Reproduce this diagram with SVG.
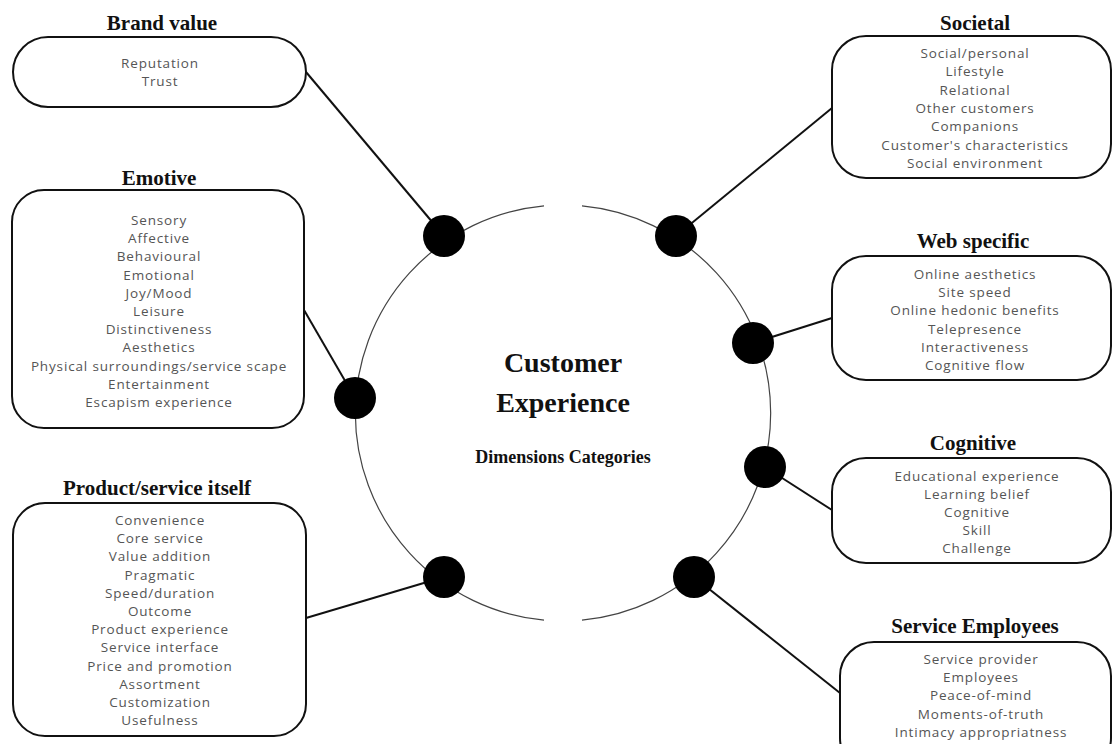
<svg xmlns="http://www.w3.org/2000/svg" width="1113" height="744" viewBox="0 0 1113 744">
  <style>
    .box { fill: #ffffff; stroke: #111111; stroke-width: 2; }
    .title { font-family: "Liberation Serif", "Times New Roman", serif; font-weight: bold; font-size: 21px; fill: #111111; text-anchor: middle; }
    .item { font-family: "Open Sans", "Liberation Sans", sans-serif; font-size: 13.5px; letter-spacing: 0.85px; fill: #555555; text-anchor: middle; }
    .link { stroke: #111111; stroke-width: 2; fill: none; }
    .ring { stroke: #444444; stroke-width: 1.2; fill: none; }
    .dot { fill: #000000; }
    .center { font-family: "Liberation Serif", "Times New Roman", serif; font-weight: bold; fill: #111111; text-anchor: middle; }
  </style>

  <rect width="1113" height="744" fill="#ffffff"/>

  <!-- connectors: box edge to hub dot -->
  <g id="connectors">
    <line class="link" x1="306" y1="72" x2="444" y2="236"/>
    <line class="link" x1="304" y1="310" x2="355" y2="398"/>
    <line class="link" x1="306" y1="618" x2="444" y2="577"/>
    <line class="link" x1="832" y1="108" x2="676" y2="236"/>
    <line class="link" x1="832" y1="318" x2="753" y2="343"/>
    <line class="link" x1="832" y1="510" x2="765" y2="467"/>
    <line class="link" x1="840" y1="693" x2="694" y2="577"/>
  </g>

  <!-- central hub: ring with openings at top and bottom -->
  <g id="hub">
    <path class="ring" d="M544 205.9 A208 208 0 0 0 544 620.1"/>
    <path class="ring" d="M582 205.9 A208 208 0 0 1 582 620.1"/>
    <text class="center" x="563" y="372" font-size="28">Customer</text>
    <text class="center" x="563" y="412" font-size="28">Experience</text>
    <text class="center" x="563" y="463" font-size="18">Dimensions Categories</text>
    <circle class="dot" cx="444" cy="236" r="21"/>
    <circle class="dot" cx="676" cy="236" r="21"/>
    <circle class="dot" cx="355" cy="398" r="21"/>
    <circle class="dot" cx="444" cy="577" r="21"/>
    <circle class="dot" cx="694" cy="577" r="21"/>
    <circle class="dot" cx="753" cy="343" r="21"/>
    <circle class="dot" cx="765" cy="467" r="21"/>
  </g>

  <g id="brand-value">
    <text class="title" x="162" y="30">Brand value</text>
    <rect class="box" x="13" y="37" width="293" height="70" rx="35"/>
    <text class="item" x="160" y="68">Reputation</text>
    <text class="item" x="160" y="86">Trust</text>
  </g>

  <g id="emotive">
    <text class="title" x="159" y="185">Emotive</text>
    <rect class="box" x="12" y="190" width="292" height="238" rx="32"/>
    <text class="item" x="159" y="225">Sensory</text>
    <text class="item" x="159" y="243.2">Affective</text>
    <text class="item" x="159" y="261.4">Behavioural</text>
    <text class="item" x="159" y="279.6">Emotional</text>
    <text class="item" x="159" y="297.8">Joy/Mood</text>
    <text class="item" x="159" y="316">Leisure</text>
    <text class="item" x="159" y="334.2">Distinctiveness</text>
    <text class="item" x="159" y="352.4">Aesthetics</text>
    <text class="item" x="159" y="370.6">Physical surroundings/service scape</text>
    <text class="item" x="159" y="388.8">Entertainment</text>
    <text class="item" x="159" y="407">Escapism experience</text>
  </g>

  <g id="product-service">
    <text class="title" x="157" y="495" font-size="22">Product/service itself</text>
    <rect class="box" x="13" y="503" width="293" height="233" rx="32"/>
    <text class="item" x="160" y="525">Convenience</text>
    <text class="item" x="160" y="543.2">Core service</text>
    <text class="item" x="160" y="561.4">Value addition</text>
    <text class="item" x="160" y="579.6">Pragmatic</text>
    <text class="item" x="160" y="597.8">Speed/duration</text>
    <text class="item" x="160" y="616">Outcome</text>
    <text class="item" x="160" y="634.2">Product experience</text>
    <text class="item" x="160" y="652.4">Service interface</text>
    <text class="item" x="160" y="670.6">Price and promotion</text>
    <text class="item" x="160" y="688.8">Assortment</text>
    <text class="item" x="160" y="707">Customization</text>
    <text class="item" x="160" y="725.2">Usefulness</text>
  </g>

  <g id="societal">
    <text class="title" x="975" y="30">Societal</text>
    <rect class="box" x="832" y="36" width="279" height="142" rx="34"/>
    <text class="item" x="975" y="58">Social/personal</text>
    <text class="item" x="975" y="76.3">Lifestyle</text>
    <text class="item" x="975" y="94.6">Relational</text>
    <text class="item" x="975" y="112.9">Other customers</text>
    <text class="item" x="975" y="131.2">Companions</text>
    <text class="item" x="975" y="149.5">Customer's characteristics</text>
    <text class="item" x="975" y="167.8">Social environment</text>
  </g>

  <g id="web-specific">
    <text class="title" x="973" y="248">Web specific</text>
    <rect class="box" x="832" y="256" width="279" height="124" rx="34"/>
    <text class="item" x="975" y="279">Online aesthetics</text>
    <text class="item" x="975" y="297.2">Site speed</text>
    <text class="item" x="975" y="315.4">Online hedonic benefits</text>
    <text class="item" x="975" y="333.6">Telepresence</text>
    <text class="item" x="975" y="351.8">Interactiveness</text>
    <text class="item" x="975" y="370">Cognitive flow</text>
  </g>

  <g id="cognitive">
    <text class="title" x="973" y="450">Cognitive</text>
    <rect class="box" x="832" y="458" width="279" height="105" rx="34"/>
    <text class="item" x="977" y="481">Educational experience</text>
    <text class="item" x="977" y="499.1">Learning belief</text>
    <text class="item" x="977" y="517.2">Cognitive</text>
    <text class="item" x="977" y="535.3">Skill</text>
    <text class="item" x="977" y="553.4">Challenge</text>
  </g>

  <g id="service-employees">
    <text class="title" x="975" y="633">Service Employees</text>
    <rect class="box" x="840" y="642" width="271" height="130" rx="34"/>
    <text class="item" x="981" y="664">Service provider</text>
    <text class="item" x="981" y="682.2">Employees</text>
    <text class="item" x="981" y="700.4">Peace-of-mind</text>
    <text class="item" x="981" y="718.6">Moments-of-truth</text>
    <text class="item" x="981" y="736.8">Intimacy appropriatness</text>
  </g>
</svg>
